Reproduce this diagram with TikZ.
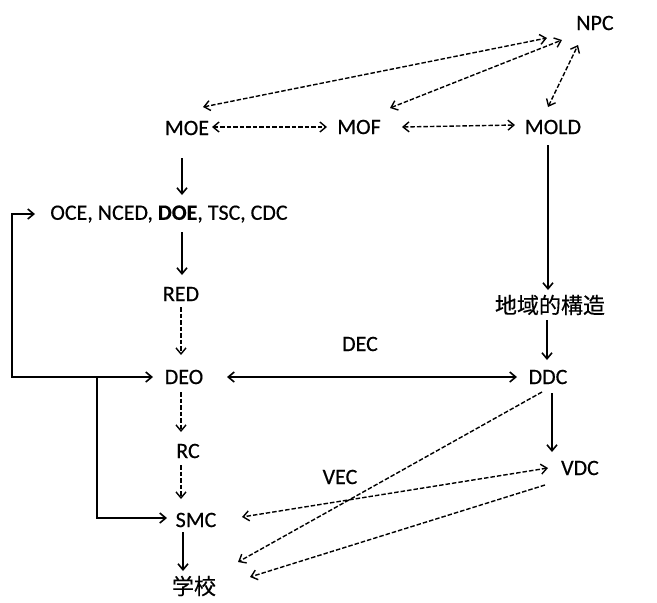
\documentclass[tikz,border=0pt]{standalone}
\usepackage{fontspec}
\setmainfont{Carlito}
\newfontfamily\cjk{Noto Sans CJK JP}[FakeBold=0.4]
\usetikzlibrary{arrows.meta,calc}
\begin{document}
\begin{tikzpicture}[x=1pt,y=-1pt,
  lbl/.style={inner sep=1pt, font=\fontsize{22}{26}\selectfont\addfontfeature{FakeBold=0.4}},
  sol/.style={line width=1.6pt, -{Straight Barb[length=6pt,width=10pt]}},
  solb/.style={line width=1.6pt, {Straight Barb[length=6pt,width=10pt]}-{Straight Barb[length=6pt,width=10pt]}},
  dsh/.style={line width=1.4pt, dash pattern=on 4.5pt off 2pt, -{Straight Barb[length=6pt,width=10pt,line width=1.4pt]}},
  dshb/.style={line width=1.4pt, dash pattern=on 4.5pt off 2pt, {Straight Barb[length=6pt,width=10pt,line width=1.4pt]}-{Straight Barb[length=6pt,width=10pt,line width=1.4pt]}}
]
\useasboundingbox (0,0) rectangle (657,603);
\node[lbl] (npc) at (595,23) {NPC};
\node[lbl] (moe) at (187,128) {MOE};
\node[lbl] (mof) at (359,127) {MOF};
\node[lbl] (mold) at (553,127) {MOLD};
\node[lbl] (oce) at (169,214) {OCE, NCED, \textbf{DOE}, TSC, CDC};
\node[lbl] (red) at (181,294) {RED};
\node[lbl] (deo) at (184,377) {DEO};
\node[lbl] (dec) at (360,344) {DEC};
\node[lbl] (ddc) at (548,377) {DDC};
\node[lbl] (chi) at (550,305) {\cjk 地域的構造};
\node[lbl] (rc) at (188,451) {RC};
\node[lbl] (vdc) at (580,468) {VDC};
\node[lbl] (vec) at (340,477) {VEC};
\node[lbl] (smc) at (196,520) {SMC};
\node[lbl] (sch) at (194,586) {\cjk 学校};
% top dashed relations
\draw[dshb] ($(moe)+(16,-21)$) -- ($(npc)+(-48,15)$);
\draw[dshb] ($(mof)+(31,-19)$) -- ($(npc)+(-33,17)$);
\draw[dshb] ($(mold)+(-5,-20)$) -- ($(npc)+(-17,22)$);
\draw[dshb] ($(moe)+(25,-1)$) -- ($(mof)+(-32,0)$);
\draw[dshb] ($(mof)+(43,0)$) -- ($(mold)+(-38,-2)$);
% left column
\draw[sol] ($(moe)+(-5,30)$) -- ($(oce)+(13,-19)$);
\draw[sol] ($(oce)+(13,18)$) -- ($(red)+(1,-19)$);
\draw[dsh] ($(red)+(0,13)$) -- ($(deo)+(-3,-22)$);
\draw[dsh] ($(deo)+(-3,15)$) -- ($(rc)+(-7,-19)$);
\draw[dsh] ($(rc)+(-7,14)$) -- ($(smc)+(-15,-21)$);
\draw[sol] ($(smc)+(-13,12)$) -- ($(sch)+(-11,-15)$);
% feedback loop
\draw[solb] ($(oce)+(-134,0)$) -- ++(-23,0) |- ($(deo)+(-31,0)$);
\draw[sol] ($(deo)+(-87,0)$) |- ($(smc)+(-29,-2)$);
% DEO <-> DDC
\draw[solb] ($(deo)+(43,0)$) -- ($(ddc)+(-31,0)$);
% right column
\draw[sol] ($(mold)+(-5,18)$) -- ($(chi)+(-2,-15)$);
\draw[sol] ($(chi)+(-3,15)$) -- ($(ddc)+(-1,-17)$);
\draw[sol] ($(ddc)+(4,16)$) -- ($(vdc)+(-28,-16)$);
% crossing dashed lines
\draw[dsh] ($(ddc)+(-6,15)$) -- ($(sch)+(44,-24)$);
\draw[dshb] ($(vdc)+(-32,0)$) -- ($(smc)+(46,-3)$);
\draw[dsh] ($(vdc)+(-35,17)$) -- ($(sch)+(56,-9)$);
\end{tikzpicture}
\end{document}
